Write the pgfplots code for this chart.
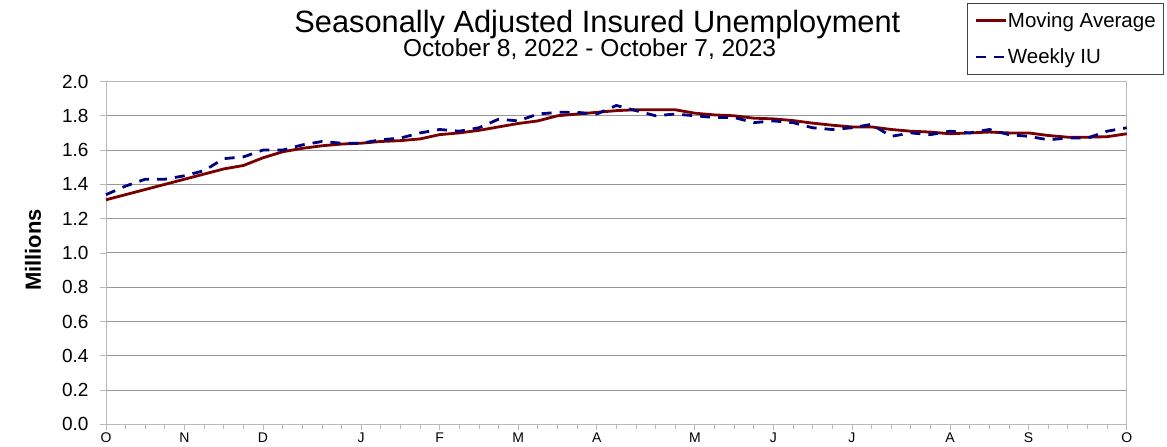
\documentclass[border=0pt]{standalone}
\usepackage{fontspec}
\setmainfont{Liberation Sans}
\usepackage{pgfplots}
\pgfplotsset{compat=1.18}
\definecolor{mavg}{RGB}{120,0,0}
\definecolor{wiu}{RGB}{0,0,128}
\definecolor{gridgray}{RGB}{150,150,150}
\definecolor{boxgray}{RGB}{185,185,185}
\begin{document}
\begin{tikzpicture}
\begin{axis}[
  scale only axis, width=1021pt, height=343pt,
  xmin=0, xmax=52, ymin=0, ymax=2,
  clip=false,
  ytick={0,0.2,0.4,0.6,0.8,1.0,1.2,1.4,1.6,1.8,2.0},
  /pgf/number format/assume math mode=true,
  y tick label style={/pgf/number format/fixed, /pgf/number format/fixed zerofill, /pgf/number format/precision=1, font=\fontsize{19}{20}\selectfont, xshift=-8pt},
  xtick={0,4,8,13,17,21,25,30,34,38,43,47,52},
  xticklabels={O,N,D,J,F,M,A,M,J,J,A,S,O},
  minor xtick={0,1,...,52},
  ymajorgrids, grid style={gridgray, line width=0.9pt},
  axis line style={boxgray, line width=0.9pt},
  tick align=outside, xtick pos=bottom, ytick pos=left,
  major tick length=6pt, minor tick length=5pt,
  tick style={boxgray, line width=0.8pt},
  minor tick style={boxgray, line width=0.8pt},
  x tick label style={font=\fontsize{14}{15}\selectfont, yshift=1pt},
  legend style={at={(rel axis cs:0.8433,1.2289)}, anchor=north west,
    draw=black!75, line width=0.8pt, font=\fontsize{20.5}{22}\selectfont,
    inner xsep=7pt, inner ysep=7pt, row sep=16pt,
    nodes={inner xsep=1pt}},
  legend cell align=left,
  legend image code/.code={\draw[#1] (0pt,0pt) -- (30pt,0pt);},
]
\addplot[mavg, line width=2.8pt] coordinates {
(0,1.31)(1,1.34)(2,1.37)(3,1.40)(4,1.43)(5,1.46)(6,1.49)(7,1.51)(8,1.555)(9,1.59)
(10,1.61)(11,1.625)(12,1.635)(13,1.64)(14,1.65)(15,1.655)(16,1.665)(17,1.69)(18,1.70)(19,1.715)
(20,1.735)(21,1.755)(22,1.77)(23,1.80)(24,1.81)(25,1.82)(26,1.83)(27,1.835)(28,1.835)(29,1.835)
(30,1.815)(31,1.805)(32,1.80)(33,1.786)(34,1.782)(35,1.772)(36,1.757)(37,1.745)(38,1.735)(39,1.735)
(40,1.72)(41,1.71)(42,1.705)(43,1.695)(44,1.70)(45,1.705)(46,1.70)(47,1.70)(48,1.685)(49,1.675)
(50,1.675)(51,1.678)(52,1.695)
};
\addlegendentry{Moving Average}
\addplot[wiu, line width=2.8pt, dash pattern=on 10pt off 8pt] coordinates {
(0,1.34)(1,1.39)(2,1.43)(3,1.43)(4,1.45)(5,1.48)(6,1.55)(7,1.56)(8,1.60)(9,1.60)
(10,1.63)(11,1.65)(12,1.64)(13,1.64)(14,1.66)(15,1.67)(16,1.70)(17,1.72)(18,1.71)(19,1.73)
(20,1.78)(21,1.77)(22,1.81)(23,1.82)(24,1.82)(25,1.81)(26,1.86)(27,1.83)(28,1.80)(29,1.81)
(30,1.80)(31,1.79)(32,1.79)(33,1.76)(34,1.77)(35,1.76)(36,1.73)(37,1.72)(38,1.73)(39,1.75)
(40,1.68)(41,1.70)(42,1.69)(43,1.71)(44,1.70)(45,1.72)(46,1.69)(47,1.68)(48,1.66)(49,1.67)
(50,1.67)(51,1.71)(52,1.73)
};
\addlegendentry{Weekly IU}
\node[anchor=base, inner sep=0pt, text depth=1pt, font=\fontsize{30.8}{32}\selectfont] at (rel axis cs:0.4814,1.1434) {Seasonally Adjusted Insured Unemployment};
\node[anchor=base, inner sep=0pt, text height=15pt, font=\fontsize{24.5}{26}\selectfont] at (rel axis cs:0.4738,1.0714) {October 8, 2022 - October 7, 2023};
\node[rotate=90, font=\bfseries\fontsize{22}{24}\selectfont] at (rel axis cs:-0.0715,0.5087) {Millions};
\end{axis}
\pgfresetboundingbox
\path ([shift={(-106pt,-22.5pt)}]current axis.south west) rectangle ([shift={(40.3pt,81.5pt)}]current axis.north east);
\end{tikzpicture}
\end{document}
